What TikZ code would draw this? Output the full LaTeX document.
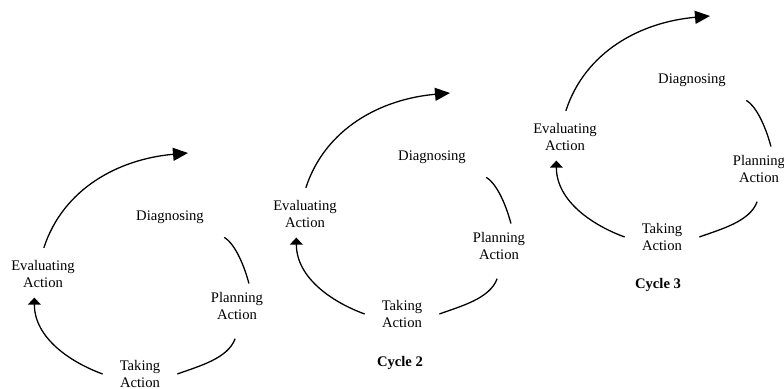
\documentclass[tikz,border=0pt]{standalone}
\usepackage{fontspec}
\setmainfont{Liberation Serif}
\usetikzlibrary{arrows.meta}

\begin{document}
\begin{tikzpicture}[x=0.03cm, y=0.03cm,
  every node/.style={font=\fontsize{12.5}{14.5}\selectfont, align=center, inner sep=4pt},
  arc line/.style={line width=1.1pt},
  big head/.style={-{Triangle[length=4.5mm,width=3.9mm]}},
  small head/.style={-{Triangle[length=2.1mm,width=3.8mm]}}]
  \useasboundingbox (0,0) rectangle (784,388);

  % the three cycles, each one shifted up and to the right
  \foreach \dx/\dy/\n in {0/0/1, 262/60/2, 522/137/3} {
    \begin{scope}[shift={(\dx,\dy)}]
      % stages
      \node (diag\n) at (170,171) {Diagnosing};
      \node (plan\n) at (237,82) {Planning\\Action};
      \node (take\n) at (140,14) {Taking\\Action};
      \node (eval\n) at (43,114) {Evaluating\\Action};
      \coordinate (next\n) at (188,235);

      % arcs between stages
      \draw[arc line, shorten <=5.4mm, shorten >=1.2mm]
        (diag\n.south east) to[out=-30, in=105] (plan\n.55);
      \draw[arc line, shorten <=4.5mm, shorten >=3.9mm]
        (plan\n.-80) to[out=-110, in=20] (take\n.-10);
      \draw[arc line, small head, shorten <=3.9mm, shorten >=1.5mm]
        (take\n.190) to[out=160, in=-90] (eval\n.-115);

      % on to the next cycle
      \draw[arc line, big head, shorten <=2.4mm]
        (eval\n.95) to[out=72, in=185] (next\n);
    \end{scope}
  }

  % cycle titles
  \node[font=\fontsize{12.5}{14.5}\selectfont\bfseries] (title2) at (400,25) {Cycle 2};
  \node[font=\fontsize{12.5}{14.5}\selectfont\bfseries] (title3) at (658,103) {Cycle 3};
\end{tikzpicture}
\end{document}
